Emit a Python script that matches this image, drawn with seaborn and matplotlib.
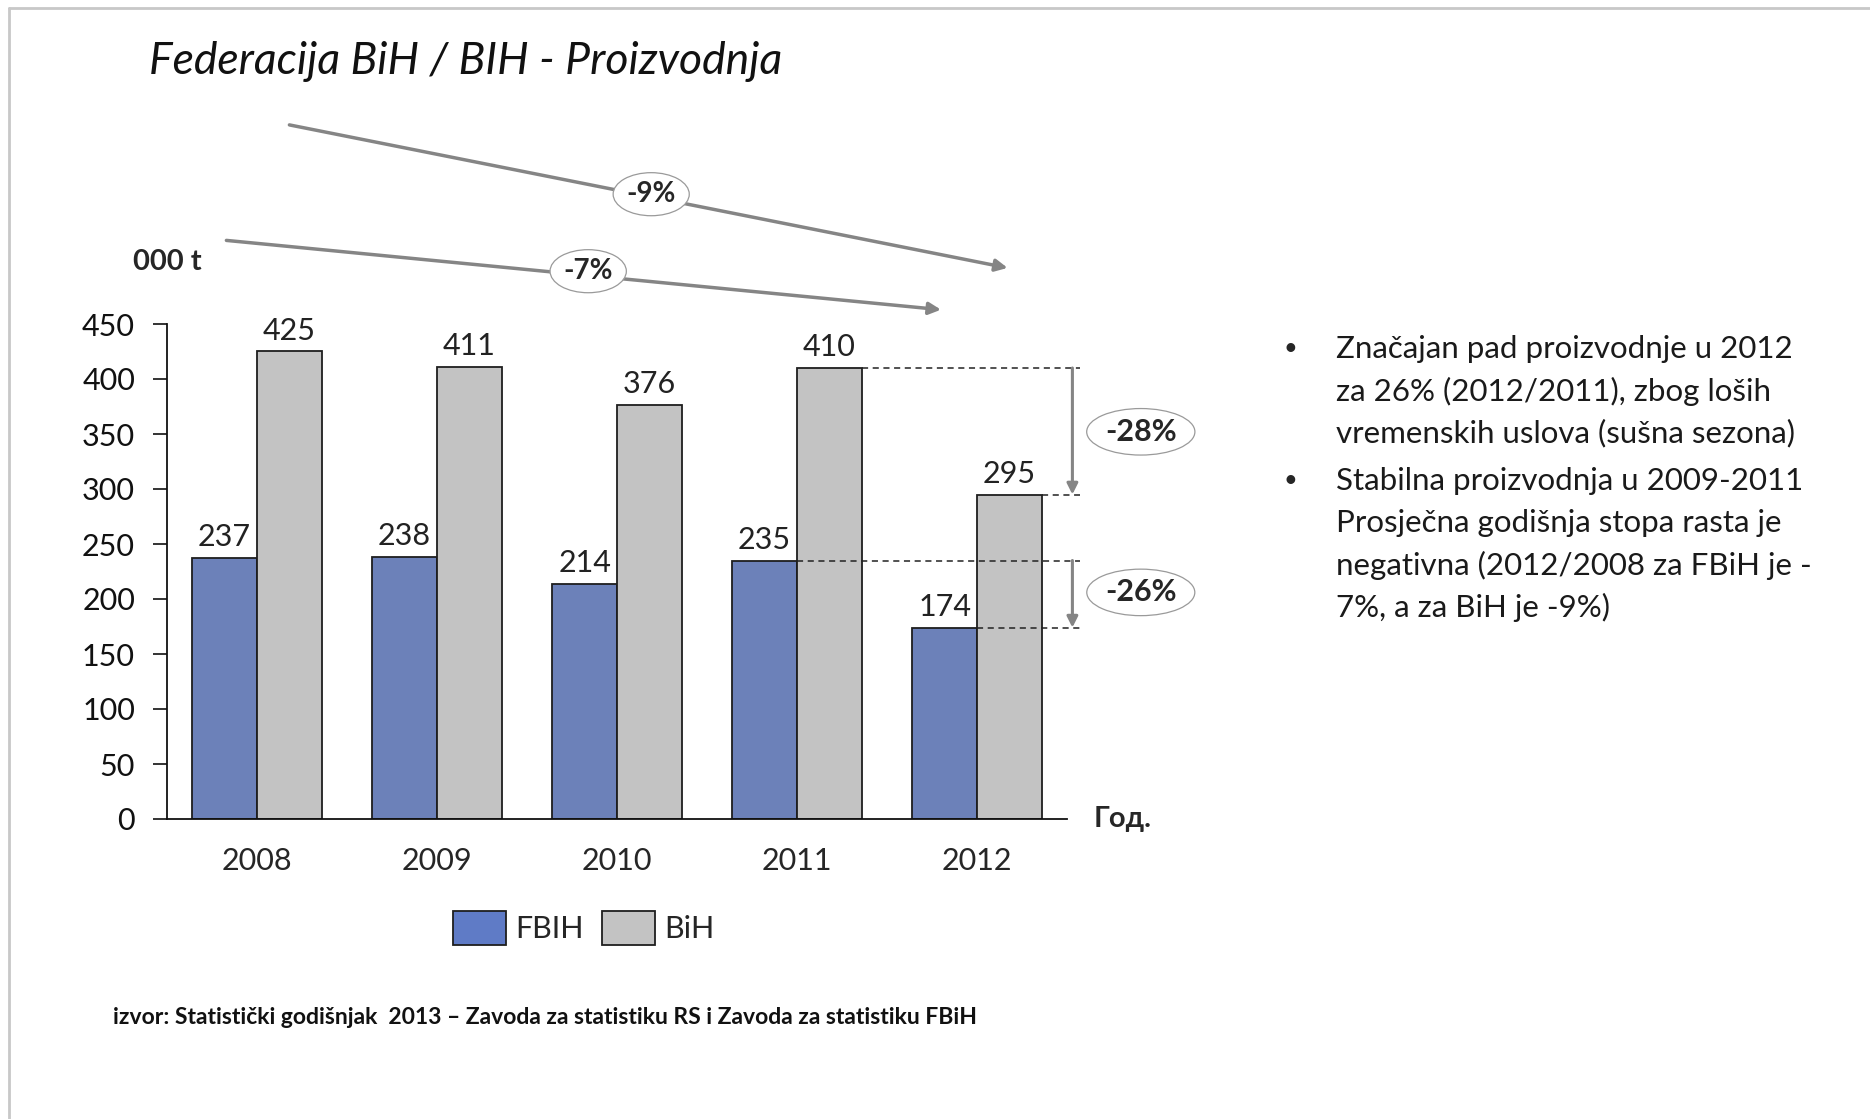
import pandas as pd
import matplotlib.pyplot as plt
import matplotlib.patches as mpatches
from matplotlib.lines import Line2D
import seaborn as sns

# Data (000 t)
years = ['2008', '2009', '2010', '2011', '2012']
fbih = [237, 238, 214, 235, 174]
bih = [425, 411, 376, 410, 295]
series_names = ['FBIH', 'BiH']

title = 'Federacija BiH / BIH - Proizvodnja'
unit_label = '000 t'
x_unit = 'Год.'
source = ('izvor: Statistički godišnjak  2013 – Zavoda za statistiku RS '
          'i Zavoda za statistiku FBiH')
bullets = [
    ['Značajan pad proizvodnje u 2012',
     'za 26% (2012/2011), zbog loših',
     'vremenskih uslova (sušna sezona)'],
    ['Stabilna proizvodnja u 2009-2011',
     'Prosječna godišnja stopa rasta je',
     'negativna (2012/2008 za FBiH je -',
     '7%, a za BiH je -9%)'],
]

blue = '#5f7bc6'
gray = '#c3c3c3'
edge = '#1e1e1e'
arrow_gray = '#858585'

sns.set_style('white')
plt.rcParams['font.family'] = ['Lato', 'Open Sans', 'DejaVu Sans']

df = pd.DataFrame({
    'year': years * 2,
    'value': fbih + bih,
    'series': [series_names[0]] * len(years) + [series_names[1]] * len(years),
})

fig = plt.figure(figsize=(18.7, 11.19), dpi=100)
ax = fig.add_axes([167 / 1870, 1 - 819 / 1119, 900 / 1870, 495 / 1119])

bar_w = 0.72
sns.barplot(data=df, x='year', y='value', hue='series', palette=[blue, gray],
            width=bar_w, edgecolor=edge, linewidth=1.3, ax=ax, legend=False)

for cont in ax.containers:
    ax.bar_label(cont, padding=5, fontsize=22, color='#222222')

ax.set_xlim(-0.5, len(years) - 0.5)
ax.set_ylim(0, 450)
ax.set_yticks(range(0, 451, 50))
ax.set_xlabel('')
ax.set_ylabel('')
sns.despine(ax=ax)
for s in ['left', 'bottom']:
    ax.spines[s].set_color('#111111')
    ax.spines[s].set_linewidth(1.3)
ax.tick_params(axis='y', direction='out', length=10, width=1.2, pad=13,
               labelsize=22, left=True, colors='#111111')
ax.tick_params(axis='x', length=0, pad=20, labelsize=22)

# axis captions
ax.text(-0.5, 506, unit_label, ha='center', va='center', fontsize=21,
        fontweight='bold', clip_on=False)
ax.text(4.65, 0, x_unit, ha='left', va='center', fontsize=21,
        fontweight='bold', clip_on=False)

half = bar_w / 2
ell = dict(boxstyle='ellipse,pad=0.08', fc='white', ec='#9a9a9a', lw=0.9)

# average annual growth trends 2012/2008
n = len(years) - 1
cagr_bih = (bih[-1] / bih[0]) ** (1 / n) - 1
cagr_fbih = (fbih[-1] / fbih[0]) ** (1 / n) - 1
ax.annotate('', xy=(4.17, 501), xytext=(0.18, 631), annotation_clip=False,
            arrowprops=dict(arrowstyle='-|>', color=arrow_gray, lw=2.5,
                            mutation_scale=18, shrinkA=0, shrinkB=0))
ax.annotate('', xy=(3.80, 463), xytext=(-0.17, 526), annotation_clip=False,
            arrowprops=dict(arrowstyle='-|>', color=arrow_gray, lw=2.5,
                            mutation_scale=18, shrinkA=0, shrinkB=0))
ax.text(2.19, 568, f'{cagr_bih:.0%}', ha='center', va='center', fontsize=20,
        fontweight='bold', bbox=ell, clip_on=False)
ax.text(1.84, 498, f'{cagr_fbih:.0%}', ha='center', va='center', fontsize=20,
        fontweight='bold', bbox=ell, clip_on=False)

# 2012/2011 drop markers
i1, i2 = len(years) - 2, len(years) - 1
x_end = 4.57
x_arr = 4.53
dash = dict(ls=(0, (4, 3)), color='#222222', lw=1.1, clip_on=False)
ax.plot([i1 + half, x_end], [bih[i1], bih[i1]], **dash)
ax.plot([i2 + half, x_end], [bih[i2], bih[i2]], **dash)
ax.plot([i1, x_end], [fbih[i1], fbih[i1]], **dash)
ax.plot([i2, x_end], [fbih[i2], fbih[i2]], **dash)
for a, b, ylab in [(bih[i1], bih[i2], 352), (fbih[i1], fbih[i2], 206)]:
    ax.annotate('', xy=(x_arr, b), xytext=(x_arr, a), annotation_clip=False,
                arrowprops=dict(arrowstyle='-|>', color=arrow_gray, lw=2.2,
                                mutation_scale=16, shrinkA=0, shrinkB=0))
    ax.text(4.91, ylab, f'{b / a - 1:.0%}', ha='center', va='center',
            fontsize=22, fontweight='bold', bbox=ell, clip_on=False)

# legend below
handles = [mpatches.Patch(facecolor=c, edgecolor=edge, linewidth=1.3, label=l)
           for c, l in zip([blue, gray], series_names)]
ax.legend(handles=handles, loc='center', bbox_to_anchor=(0.463, -0.22),
          ncol=2, frameon=False, fontsize=22, handlelength=1.75,
          handleheight=1.3, handletextpad=0.3, columnspacing=0.6)

# title, notes, source
fig.text(149 / 1870, 1 - 62 / 1119, title, fontsize=32, fontstyle='italic',
         va='center', ha='left', color='#111111')

y = 349
for group in bullets:
    fig.text(1284 / 1870, 1 - y / 1119, '•', fontsize=17, va='center')
    for line in group:
        fig.text(1336 / 1870, 1 - y / 1119, line, fontsize=22.5, va='center',
                 color='#1a1a1a')
        y += 42
    y += 6

fig.text(113 / 1870, 1 - 1017 / 1119, source, fontsize=16.5, fontweight='bold',
         va='center', ha='left', color='#111111')

# slide border
fig.add_artist(Line2D([9 / 1870, 9 / 1870], [0, 1 - 8 / 1119],
                      transform=fig.transFigure, color='#c8c8c8', lw=2))
fig.add_artist(Line2D([9 / 1870, 1], [1 - 8 / 1119, 1 - 8 / 1119],
                      transform=fig.transFigure, color='#c8c8c8', lw=2))

fig.savefig('out.png', dpi=100, facecolor='white')
